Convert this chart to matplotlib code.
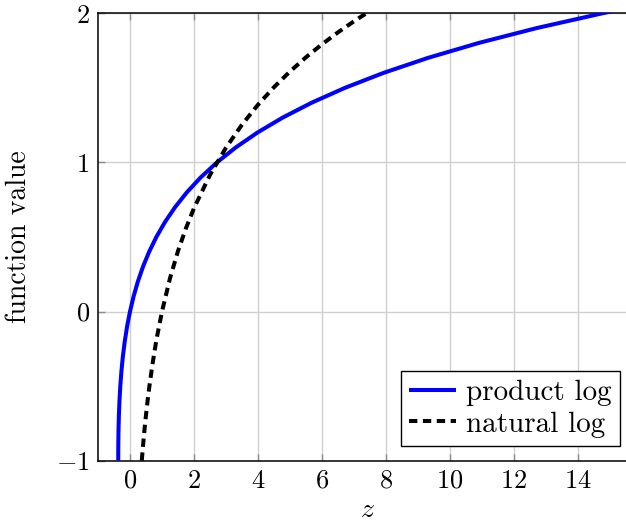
import matplotlib
matplotlib.use("Agg")
import matplotlib.pyplot as plt

# product log (Lambert W): points (z, W(z))
prodlog_z = [-0.3679, -0.3674, -0.3659, -0.3595, -0.3476, -0.3293, -0.3033, -0.2681,
             -0.2222, -0.1637, -0.0905, 0.0, 0.1105, 0.2443, 0.4050, 0.5967, 0.8244,
             1.0933, 1.4096, 1.7804, 2.2136, 2.7183, 3.3046, 3.9841, 4.7701, 5.6773,
             6.7225, 7.9248, 9.3057, 10.8894, 12.7032, 14.7781, 15.924]
prodlog_w = [-1.0, -0.95, -0.9, -0.8, -0.7, -0.6, -0.5, -0.4, -0.3, -0.2, -0.1, 0.0,
             0.1, 0.2, 0.3, 0.4, 0.5, 0.6, 0.7, 0.8, 0.9, 1.0, 1.1, 1.2, 1.3, 1.4,
             1.5, 1.6, 1.7, 1.8, 1.9, 2.0, 2.05]

# natural log: points (z, ln z)
natlog_z = [0.3679, 0.4, 0.45, 0.5, 0.55, 0.6, 0.7, 0.8, 0.85, 1.0, 1.25, 1.5, 1.75,
            2.0, 2.5, 3.0, 3.5, 4.0, 4.5, 5.0, 5.5, 6.0, 6.5, 7.0, 7.389]
natlog_y = [-1.0, -0.9163, -0.7985, -0.6931, -0.5978, -0.5108, -0.3567, -0.2231,
            -0.1625, 0.0, 0.2231, 0.4055, 0.5596, 0.6931, 0.9163, 1.0986, 1.2528,
            1.3863, 1.5041, 1.6094, 1.7047, 1.7918, 1.8718, 1.9459, 2.0]

xticks = [0, 2, 4, 6, 8, 10, 12, 14]
yticks = [-1, 0, 1, 2]

plt.rcParams['mathtext.fontset'] = 'cm'
plt.rcParams['font.family'] = ['cmr10', 'DejaVu Serif']
plt.rcParams['axes.unicode_minus'] = False
plt.rcParams['lines.scale_dashes'] = False

FS_TICK = 19
FS_LAB = 20
FS_LEG = 21
fig = plt.figure(figsize=(6.26, 5.24), dpi=100)
W, H = 626, 524
left, bottom, top = 98, 460.7, 13.2
xmin, xmax = -1.0, 16.0
px_per_unit = 32.0
right = 130 + xmax * px_per_unit
ax = fig.add_axes([left / W, 1 - bottom / H, (right - left) / W, (bottom - top) / H])

ax.plot(prodlog_z, prodlog_w, color='#0000ff', lw=2.9, label='product log',
        solid_capstyle='butt', zorder=3)
ax.plot(natlog_z, natlog_y, color='black', lw=2.9, dashes=(6.0, 4.0),
        label='natural log', zorder=3)

ax.set_xlim(xmin, xmax)
ax.set_ylim(-1, 2)
ax.set_xticks(xticks)
ax.set_yticks(yticks)
ax.set_xticklabels([f'${t}$' if t >= 0 else f'$-{abs(t)}$' for t in xticks], fontsize=FS_TICK)
ax.set_yticklabels([f'${t}$' if t >= 0 else f'$-{abs(t)}$' for t in yticks], fontsize=FS_TICK)
ax.tick_params(direction='in', length=5, width=1, color='#8c8c8c', top=True, right=True,
               pad=6)
ax.grid(True, color='#cfcfcf', lw=1)
ax.set_axisbelow(True)
for s in ax.spines.values():
    s.set_linewidth(1.1)
    s.set_color('black')

fig.text(367 / W, 1 - 510 / H, r'$z$', fontsize=FS_LAB, ha='center', va='center')
fig.text(19 / W, 1 - 237 / H, 'function value', fontsize=FS_LAB,
         rotation=90, ha='center', va='center')

leg = ax.legend(loc='lower right', bbox_to_anchor=(620 / W, 1 - 446.3 / H),
                bbox_transform=fig.transFigure, borderaxespad=0,
                prop={'family': 'cmr10', 'size': FS_LEG},
                fancybox=False, framealpha=1, edgecolor='black', handlelength=1.6,
                handletextpad=0.33, borderpad=0.3, labelspacing=0.18)
leg.get_frame().set_linewidth(1.0)

fig.savefig('out.png', dpi=100)
